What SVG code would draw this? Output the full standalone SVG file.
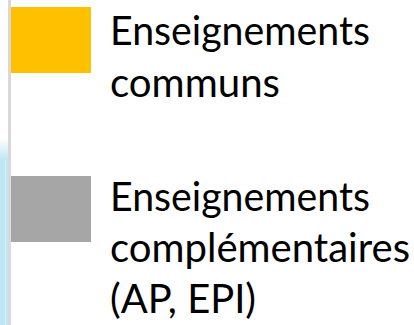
<svg xmlns="http://www.w3.org/2000/svg" width="414" height="325" viewBox="0 0 414 325">
<defs>
<linearGradient id="blueFade" x1="0" y1="0" x2="0" y2="1">
<stop offset="0" stop-color="#bfe6f3" stop-opacity="0"/>
<stop offset="1" stop-color="#bfe6f3" stop-opacity="1"/>
</linearGradient>
<style>
.lbl{font-family:"Lato","Open Sans","Liberation Sans",sans-serif;font-size:40px;fill:#000000}
</style>
</defs>
<rect x="0" y="0" width="414" height="325" fill="#ffffff"/>
<g id="left-strip">
<rect x="0" y="138" width="8" height="22" fill="url(#blueFade)"/>
<rect x="0" y="160" width="8" height="165" fill="#bfe6f3"/>
<rect x="5" y="160" width="1" height="165" fill="#d6f0f8"/>
<rect x="8" y="0" width="3" height="325" fill="#d9d9dc"/>
</g>
<g id="legend-communs">
<rect x="11" y="7" width="80" height="66" fill="#ffc000"/>
<text class="lbl" x="110" y="45" textLength="260" lengthAdjust="spacingAndGlyphs">Enseignements</text>
<text class="lbl" x="110" y="97" textLength="170" lengthAdjust="spacingAndGlyphs">communs</text>
</g>
<g id="legend-complementaires">
<rect x="11" y="176" width="80" height="66" fill="#a6a6a6"/>
<text class="lbl" x="110" y="211" textLength="260" lengthAdjust="spacingAndGlyphs">Enseignements</text>
<text class="lbl" x="110" y="262" textLength="300" lengthAdjust="spacingAndGlyphs">complémentaires</text>
<text class="lbl" x="110" y="313" textLength="146" lengthAdjust="spacingAndGlyphs">(AP, EPI)</text>
</g>
<g id="connectors"></g>
</svg>
